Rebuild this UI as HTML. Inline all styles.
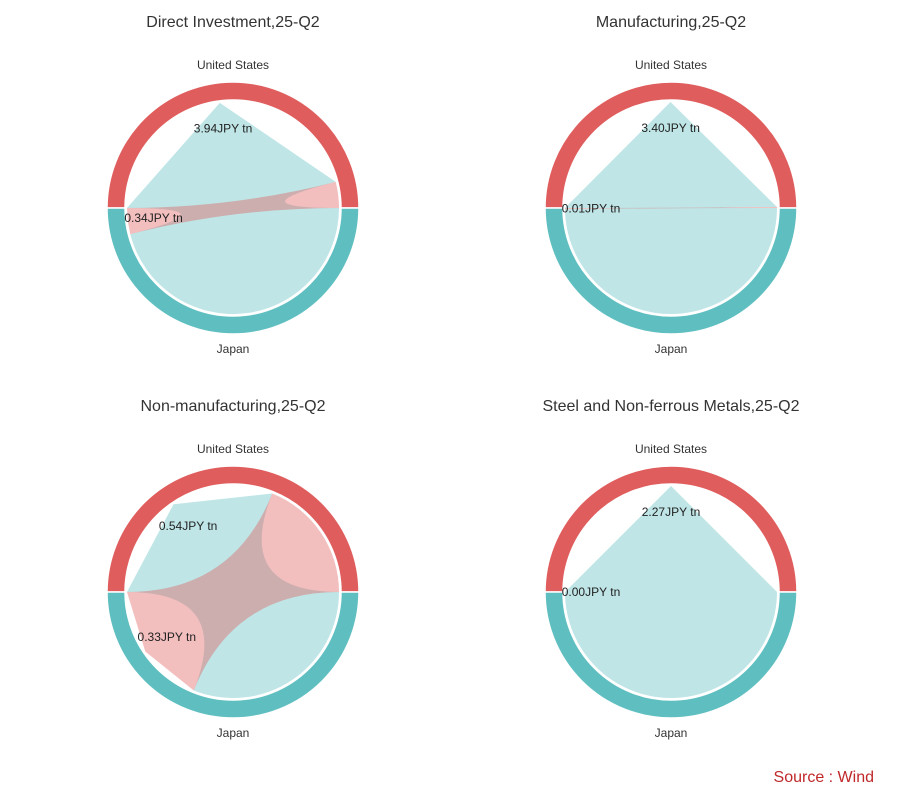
<!DOCTYPE html>
<html><head><meta charset="utf-8">
<style>
html,body{margin:0;padding:0;background:#fff;}
svg{display:block;font-family:"Liberation Sans",sans-serif;}
</style></head>
<body>
<svg id="chart" width="904" height="804" viewBox="0 0 904 804" xmlns="http://www.w3.org/2000/svg">
<text x="874" y="782" text-anchor="end" font-size="16" fill="#c0282a">Source : Wind</text>
</svg>
<script>
const titles = ["Direct Investment,25-Q2","Manufacturing,25-Q2","Non-manufacturing,25-Q2","Steel and Non-ferrous Metals,25-Q2"];
const usToJapan = [3.94, 3.40, 0.54, 2.27];
const japanToUs = [0.34, 0.01, 0.33, 0.00];
const groupNames = ["United States","Japan"];

const svg = document.getElementById('chart');
const NS = 'http://www.w3.org/2000/svg';
const centers = [[233,208],[671,208],[233,592],[671,592]];
const R_OUT = 126, R_IN = 108, R_RIB = 106, R_LAB = 80;
const RED = '#e05d5d', TEAL = '#5fbfc0';

function mk(tag, attrs, parent){
  const e = document.createElementNS(NS, tag);
  for (const k in attrs) e.setAttribute(k, attrs[k]);
  parent.appendChild(e);
  return e;
}
function pt(cx, cy, r, deg){
  const a = deg*Math.PI/180;
  return [cx + r*Math.cos(a), cy + r*Math.sin(a)];
}
function ringPath(cx, cy, a0, a1){
  const p0 = pt(cx,cy,R_OUT,a0), p1 = pt(cx,cy,R_OUT,a1);
  const q1 = pt(cx,cy,R_IN,a1), q0 = pt(cx,cy,R_IN,a0);
  const large = (a1-a0) > 180 ? 1 : 0;
  return `M${p0}A${R_OUT},${R_OUT} 0 ${large} 1 ${p1}L${q1}A${R_IN},${R_IN} 0 ${large} 0 ${q0}Z`;
}
function ribbonPath(cx, cy, s0, s1, t0, t1){
  const S0 = pt(cx,cy,R_RIB,s0), SM = pt(cx,cy,R_RIB,(s0+s1)/2), S1 = pt(cx,cy,R_RIB,s1);
  const T0 = pt(cx,cy,R_RIB,t0), T1 = pt(cx,cy,R_RIB,t1);
  const large = (t1-t0) > 180 ? 1 : 0;
  return `M${S0}L${SM}L${S1}Q${cx},${cy} ${T0}A${R_RIB},${R_RIB} 0 ${large} 1 ${T1}Q${cx},${cy} ${S0}Z`;
}

titles.forEach((title, i) => {
  const [cx, cy] = centers[i];
  const g = mk('g', {}, svg);
  
  

  const t = mk('text', {x: cx, y: cy-181, 'text-anchor':'middle', 'font-size':16, fill:'#333'}, g);
  
  
  t.textContent = title;

  const a = usToJapan[i], b = japanToUs[i];
  const tot = a + b;
  const fa = tot > 0 ? a/tot : 1;
  const usSplit = 180 + 180*fa;
  const jpSplit = 180*fa;

  const r1 = mk('path', {d: ringPath(cx,cy,180,360), fill: RED, stroke:'#fff', 'stroke-width':1.5}, g);
  
  
  const r2 = mk('path', {d: ringPath(cx,cy,0,180), fill: TEAL, stroke:'#fff', 'stroke-width':1.5}, g);
  
  

  if (a > 0) {
    const rb = mk('path', {d: ribbonPath(cx,cy,180,usSplit,0,jpSplit), fill: TEAL, 'fill-opacity':0.4, stroke:'none'}, g);
    
    
  }
  if (b > 0) {
    const rb = mk('path', {d: ribbonPath(cx,cy,jpSplit,180,usSplit,360), fill: RED, 'fill-opacity':0.4, stroke:'none'}, g);
    
    
  }

  const la = pt(cx,cy,R_LAB,(180+usSplit)/2);
  const l1 = mk('text', {x: la[0], y: la[1]+4, 'text-anchor':'middle', 'font-size':12, fill:'#222'}, g);
  
  
  l1.textContent = a.toFixed(2) + 'JPY tn';
  const lb = pt(cx,cy,R_LAB,(jpSplit+180)/2);
  const l2 = mk('text', {x: lb[0], y: lb[1]+4, 'text-anchor':'middle', 'font-size':12, fill:'#222'}, g);
  
  
  l2.textContent = b.toFixed(2) + 'JPY tn';

  const n1 = mk('text', {x: cx, y: cy-139, 'text-anchor':'middle', 'font-size':12, fill:'#333'}, g);
  
  
  n1.textContent = groupNames[0];
  const n2 = mk('text', {x: cx, y: cy+145, 'text-anchor':'middle', 'font-size':12, fill:'#333'}, g);
  
  
  n2.textContent = groupNames[1];
});
</script>
</body></html>
